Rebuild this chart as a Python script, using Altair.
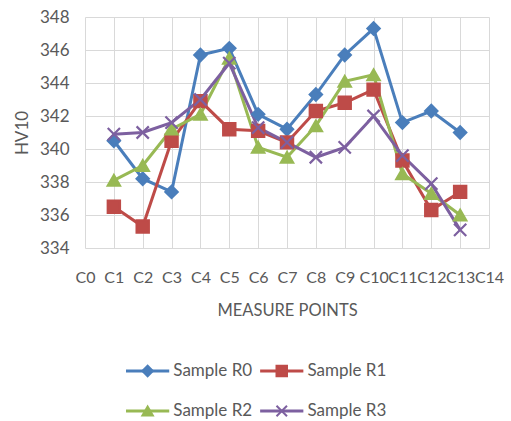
import altair as alt
import pandas as pd

categories = ["C0", "C1", "C2", "C3", "C4", "C5", "C6", "C7", "C8", "C9", "C10", "C11", "C12", "C13", "C14"]
measure_points = ["C1", "C2", "C3", "C4", "C5", "C6", "C7", "C8", "C9", "C10", "C11", "C12", "C13"]
series_names = ["Sample R0", "Sample R1", "Sample R2", "Sample R3"]
r0 = [340.5, 338.2, 337.4, 345.7, 346.1, 342.1, 341.2, 343.3, 345.7, 347.3, 341.6, 342.3, 341.0]
r1 = [336.5, 335.3, 340.5, 342.9, 341.2, 341.1, 340.4, 342.3, 342.8, 343.6, 339.3, 336.3, 337.4]
r2 = [338.1, 339.0, 341.2, 342.1, 345.5, 340.1, 339.5, 341.4, 344.1, 344.5, 338.5, 337.3, 336.0]
r3 = [340.9, 341.0, 341.6, 343.0, 345.2, 341.3, 340.4, 339.5, 340.1, 342.0, 339.6, 337.9, 335.1]
y_ticks = [334, 336, 338, 340, 342, 344, 346, 348]

colors = ["#4A7EBB", "#BE4B48", "#98B954", "#7D60A0"]
shapes = ["diamond", "square", "triangle-up", "M-1,-1L1,1M-1,1L1,-1"]
FONT = "Lato"
GREY = "#595959"

rows = []
for name, vals in zip(series_names, [r0, r1, r2, r3]):
    for p, v in zip(measure_points, vals):
        rows.append({"point": p, "hv": v, "series": name})
df = pd.DataFrame(rows)

color_scale = alt.Scale(domain=series_names, range=colors)
shape_scale = alt.Scale(domain=series_names, range=shapes)

x_enc = alt.X("point:O", sort=categories,
              scale=alt.Scale(domain=categories, padding=0),
              axis=alt.Axis(title="MEASURE POINTS", labelAngle=0, labelFontSize=16,
                            labelColor=GREY, titleColor=GREY, titleFontSize=16.5,
                            titleFontWeight="normal", ticks=False, tickSize=0,
                            labelPadding=21, titlePadding=17, domain=False,
                            grid=True, gridColor="#D9D9D9", labelFont=FONT, titleFont=FONT))
y_enc = alt.Y("hv:Q", scale=alt.Scale(domain=[334, 348], nice=False, zero=False),
              axis=alt.Axis(title="HV10", values=y_ticks, labelFontSize=17, labelColor=GREY,
                            titleColor=GREY, titleFontSize=17, titleFontWeight="normal",
                            ticks=False, tickSize=0, labelPadding=16, titlePadding=8,
                            domain=False, gridColor="#D9D9D9", labelFont=FONT, titleFont=FONT))

base = alt.Chart(df)
lines = base.mark_line(strokeWidth=3).encode(
    x=x_enc, y=y_enc,
    stroke=alt.Stroke("series:N", scale=color_scale, legend=None),
    detail="series:N",
)
points = base.mark_point(filled=True, strokeWidth=2.2, opacity=1, size=150).encode(
    x=x_enc, y=y_enc,
    fill=alt.Fill("series:N", scale=color_scale, legend=None),
    stroke=alt.Stroke("series:N", scale=color_scale, legend=None),
    shape=alt.Shape("series:N", scale=shape_scale, legend=None),
)
main = alt.layer(lines, points).properties(width=404, height=231)

leg_df = pd.DataFrame({"series": series_names, "col": [0, 1, 0, 1], "row": [0, 0, 1, 1]})
leg_base = alt.Chart(leg_df).transform_calculate(
    x0="0.1015 + datum.col * 0.332",
).transform_calculate(
    x1="datum.x0 + 0.107",
    xm="datum.x0 + 0.0535",
    xt="datum.x0 + 0.117",
)
lx = alt.Scale(domain=[0, 1])
ly = alt.Scale(domain=[-0.75, 1.1], reverse=True)
leg_rule = leg_base.mark_rule(strokeWidth=3).encode(
    x=alt.X("x0:Q", scale=lx, axis=None), x2="x1:Q",
    y=alt.Y("row:Q", scale=ly, axis=None),
    stroke=alt.Stroke("series:N", scale=color_scale, legend=None),
)
leg_pt = leg_base.mark_point(filled=True, strokeWidth=2, opacity=1, size=110).encode(
    x=alt.X("xm:Q", scale=lx, axis=None),
    y=alt.Y("row:Q", scale=ly, axis=None),
    fill=alt.Fill("series:N", scale=color_scale, legend=None),
    stroke=alt.Stroke("series:N", scale=color_scale, legend=None),
    shape=alt.Shape("series:N", scale=shape_scale, legend=None),
)
leg_txt = leg_base.mark_text(align="left", baseline="middle", fontSize=17, font=FONT, color=GREY).encode(
    x=alt.X("xt:Q", scale=lx, axis=None),
    y=alt.Y("row:Q", scale=ly, axis=None),
    text="series:N",
)
legend = alt.layer(leg_rule, leg_pt, leg_txt).properties(width=404, height=74)

chart = alt.vconcat(main, legend, spacing=93, bounds="flush").resolve_scale(
    x="independent", y="independent"
).properties(
    padding={"left": 13, "top": 8, "right": 5, "bottom": 2}
).configure_view(stroke=None)

chart.save("out.html", embed_options={"renderer": "svg", "actions": False})
